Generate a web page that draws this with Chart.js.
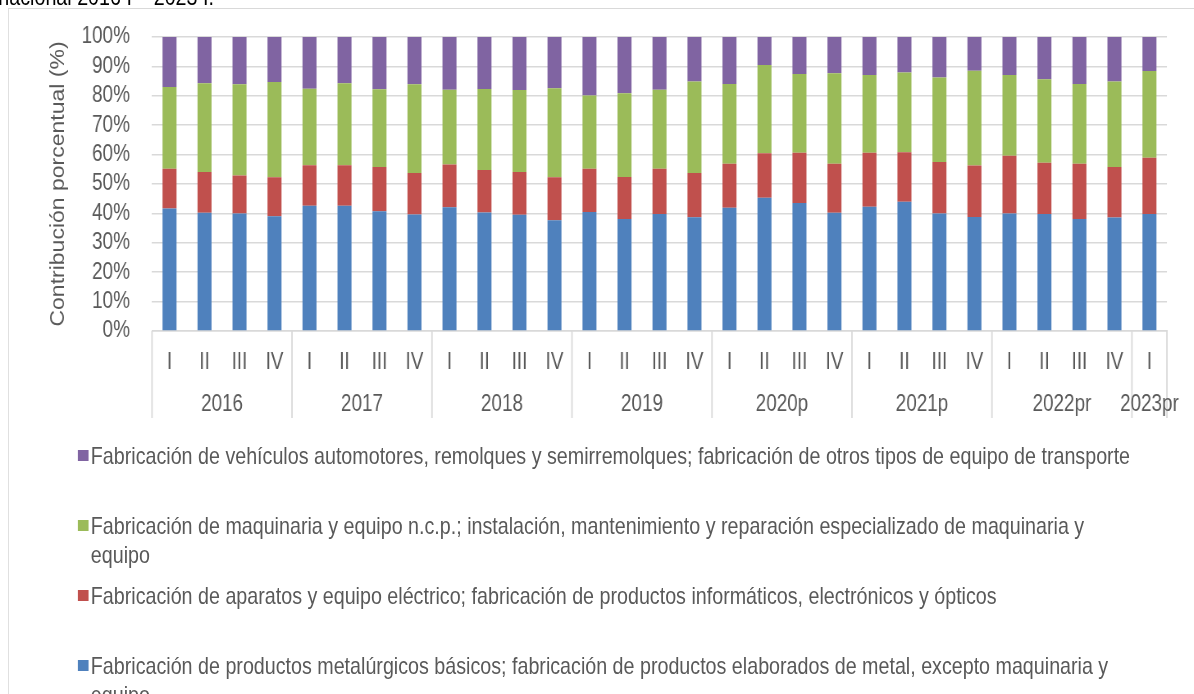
<!DOCTYPE html>
<html>
<head>
<meta charset="utf-8">
<script src="https://cdn.jsdelivr.net/npm/chart.js@4/dist/chart.umd.min.js"></script>
<style>
  html, body { margin: 0; padding: 0; background: #fff; overflow: hidden; }
  body { width: 1194px; height: 694px; position: relative; }
  /* la figura original está comprimida en horizontal (fuente tipo narrow) */
  #page { position: absolute; left: 0; top: 0; width: 1456px; height: 694px;
          transform: scaleX(0.82); transform-origin: 0 0;
          font-family: 'Liberation Sans', Arial, sans-serif; color: #595959; }
  #title { position: absolute; left: -2px; top: -17px; font-size: 24px; color: #000; white-space: nowrap; }
  #frame { position: absolute; left: 9.8px; top: 8px; width: 1600px; height: 800px;
           border-left: 1.5px solid #d9d9d9; border-top: 1.5px solid #d9d9d9; }
  #wrap { position: absolute; left: 0; top: 0; width: 1456px; height: 430px; }
  #legend { position: absolute; left: 95px; top: 441px; width: 1340px; }
  .item { height: 70px; display: flex; align-items: flex-start; }
  .box { width: 13.4px; height: 11px; margin-top: 9px; margin-right: 2.4px; flex: none; }
  .txt { font-size: 24px; line-height: 29px; width: 1283px; }
</style>
</head>
<body>
<div id="page">
<div id="title">nacional 2016 I – 2023 I.</div>
<div id="frame"></div>
<div id="wrap"><canvas id="chart"></canvas></div>
<div id="legend"></div>
</div>
<script>
const quarters = ['I', 'II', 'III', 'IV', 'I', 'II', 'III', 'IV', 'I', 'II', 'III', 'IV',
  'I', 'II', 'III', 'IV', 'I', 'II', 'III', 'IV', 'I', 'II', 'III', 'IV', 'I', 'II', 'III', 'IV', 'I']
const years = ['2016', '2017', '2018', '2019', '2020p', '2021p', '2022pr', '2023pr']
const quartersPerYear = [4, 4, 4, 4, 4, 4, 4, 1]
const yTicks = [0, 10, 20, 30, 40, 50, 60, 70, 80, 90, 100]

// contribucion porcentual de cada actividad, por trimestre
const metalurgicos = [41.7, 40.2, 40.0, 39.0, 42.6, 42.6, 40.7, 39.6, 42.1, 40.3, 39.5, 37.7,
  40.5, 38.1, 39.8, 38.7, 41.9, 45.3, 43.5, 40.2, 42.3, 44.0, 40.0, 38.8, 40.0, 39.8, 38.1, 38.6, 39.8]
const electricos = [13.5, 13.9, 12.9, 13.3, 13.8, 13.8, 15.1, 14.1, 14.5, 14.5, 14.6, 14.6,
  14.7, 14.3, 15.4, 15.0, 15.0, 15.2, 17.1, 16.7, 18.3, 16.8, 17.5, 17.5, 19.6, 17.4, 18.8, 17.2, 19.1]
const maquinaria = [27.8, 30.2, 31.0, 32.4, 26.0, 27.9, 26.4, 30.2, 25.5, 27.5, 27.9, 30.3,
  24.9, 28.5, 26.9, 31.2, 27.1, 30.0, 26.8, 30.8, 26.5, 27.1, 28.7, 32.2, 27.5, 28.4, 27.1, 29.1, 29.5]
const vehiculos = [17.0, 15.7, 16.1, 15.3, 17.6, 15.7, 17.8, 16.1, 17.9, 17.7, 18.0, 17.4,
  19.9, 19.1, 17.9, 15.1, 16.0, 9.5, 12.6, 12.3, 12.9, 12.1, 13.8, 11.5, 12.9, 14.4, 16.0, 15.1, 11.6]

const seriesNames = [
  'Fabricación de productos metalúrgicos básicos; fabricación de productos elaborados de metal, excepto maquinaria y equipo',
  'Fabricación de aparatos y equipo eléctrico; fabricación de productos informáticos, electrónicos y ópticos',
  'Fabricación de maquinaria y equipo n.c.p.; instalación, mantenimiento y reparación especializado de maquinaria y equipo',
  'Fabricación de vehículos automotores, remolques y semirremolques; fabricación de otros tipos de equipo de transporte'
]
const seriesColors = ['#4f81bd', '#c0504d', '#9bbb59', '#8064a2']
const seriesValues = [metalurgicos, electricos, maquinaria, vehiculos]

const FONT = "'Liberation Sans', Arial, sans-serif"
const GRID = '#d9d9d9'
const SX = 0.82
Chart.defaults.font.family = FONT
Chart.defaults.font.size = 23
Chart.defaults.color = '#595959'

// etiquetas de año y separadores bajo los trimestres
const yearGroups = {
  id: 'yearGroups',
  afterDraw(chart) {
    const x = chart.scales.x
    const ctx = chart.ctx
    const half = (x.getPixelForValue(1) - x.getPixelForValue(0)) / 2
    const top = chart.chartArea.bottom
    const line = (px) => {
      ctx.beginPath()
      ctx.moveTo(px, top)
      ctx.lineTo(px, top + 87)
      ctx.stroke()
    }
    ctx.save()
    ctx.strokeStyle = GRID
    ctx.lineWidth = 1.8
    ctx.fillStyle = '#595959'
    ctx.font = '23px ' + FONT
    ctx.textAlign = 'center'
    ctx.textBaseline = 'middle'
    line(x.getPixelForValue(0) - half)
    let i = 0
    years.forEach((y, k) => {
      const n = quartersPerYear[k]
      const a = x.getPixelForValue(i) - half
      const b = x.getPixelForValue(i + n - 1) + half
      line(b)
      ctx.fillText(y, (a + b) / 2, top + 74)
      i += n
    })
    ctx.restore()
  }
}

const data = {
  labels: quarters,
  datasets: seriesNames.map((name, k) => ({
    label: name,
    data: seriesValues[k],
    backgroundColor: seriesColors[k],
    borderWidth: 0,
    barPercentage: 0.4,
    categoryPercentage: 1
  }))
}

const config = {
  type: 'bar',
  data: data,
  plugins: [yearGroups],
  options: {
    animation: false,
    responsive: true,
    maintainAspectRatio: false,
    layout: { padding: { left: 0, top: 37, right: 27 / SX, bottom: 0 } },
    plugins: {
      legend: { display: false },
      tooltip: { enabled: false }
    },
    scales: {
      x: {
        stacked: true,
        grid: { display: false, drawTicks: false },
        border: { display: true, color: GRID, width: 1.5 },
        ticks: { autoSkip: false, maxRotation: 0, padding: 18 },
        afterFit: (s) => { s.height = 99 }
      },
      y: {
        stacked: true,
        min: 0,
        max: 100,
        afterBuildTicks: (s) => { s.ticks = yTicks.map(v => ({ value: v })) },
        ticks: { autoSkip: false, padding: 4, callback: (v) => v + '%' },
        grid: { color: GRID, lineWidth: 1.5, drawTicks: true, tickLength: 23, tickColor: 'rgba(0,0,0,0)' },
        border: { display: false },
        title: {
          display: true,
          text: 'Contribución porcentual (%)',
          font: { size: 23 },
          padding: { top: 58, bottom: 0 }
        },
        afterFit: (s) => { s.width = 152 / SX }
      }
    }
  }
}

new Chart(document.getElementById('chart'), config)

// leyenda en orden inverso, como en la figura
const legend = document.getElementById('legend')
for (let k = seriesNames.length - 1; k >= 0; k--) {
  const item = document.createElement('div')
  item.className = 'item'
  item.innerHTML = '<span class="box" style="background:' + seriesColors[k] + '"></span><span class="txt">' + seriesNames[k] + '</span>'
  legend.appendChild(item)
}
</script>
</body>
</html>
